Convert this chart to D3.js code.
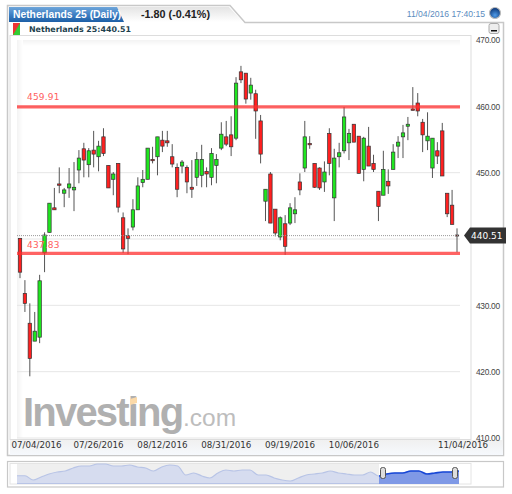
<!DOCTYPE html>
<html>
<head>
<meta charset="utf-8">
<script src="https://cdn.jsdelivr.net/npm/d3@7"></script>
<style>
html, body { margin: 0; padding: 0; background: #fff; }
svg { display: block; }
text { font-family: "DejaVu Sans", sans-serif; }
</style>
</head>
<body>
<svg id="chart" width="512" height="494"></svg>
<script>
// values, oldest first
var opens = [440.1,431.8,427.3,424.6,425.2,437.9,441.0,444.7,448.3,446.9,447.7,447.4,450.4,453.6,451.2,453.4,452.4,455.4,451.1,449.0,451.4,443.2,440.5,441.8,444.4,448.5,449.0,452.0,452.4,454.9,454.8,452.4,450.8,451.0,450.8,447.8,449.3,449.6,450.2,449.3,451.1,453.7,455.4,455.7,455.2,465.2,465.0,462.0,461.9,457.8,445.7,449.8,444.5,440.3,442.3,442.4,443.8,448.6,450.7,454.4,451.4,450.7,448.6,455.9,446.2,452.4,453.3,454.5,457.3,455.5,450.5,454.0,451.4,447.2,446.6,448.7,450.5,454.0,455.4,457.0,459.6,460.5,457.6,454.8,450.7,453.3,456.3,446.9,445.1,440.6];
var highs = [440.1,433.8,430.3,429.0,434.6,441.0,445.4,447.7,450.8,447.7,450.7,451.6,453.4,454.5,453.7,456.3,454.8,456.7,451.1,450.1,451.4,444.0,441.6,446.0,449.3,450.4,453.7,453.9,455.4,456.3,456.3,454.3,451.4,451.9,451.1,451.9,453.1,454.2,450.8,453.7,452.8,457.6,457.8,458.5,464.4,466.1,465.0,464.3,462.5,458.7,447.5,450.1,444.5,443.4,443.6,445.4,446.3,449.9,457.8,455.5,451.4,450.8,451.7,456.7,453.6,454.5,459.9,456.6,457.3,455.5,455.4,456.9,452.7,447.2,453.3,450.5,454.3,455.5,457.2,458.4,462.9,462.0,458.1,459.1,455.2,454.6,457.5,446.9,447.4,441.6];
var lows = [434.1,429.0,419.3,424.6,424.3,435.0,441.0,444.4,446.9,444.8,446.2,444.2,448.4,449.3,449.3,450.8,450.2,452.5,447.7,446.6,444.0,437.9,437.7,441.3,444.4,447.8,449.0,451.4,449.6,453.1,453.9,450.8,446.3,449.9,446.9,446.2,448.0,447.8,447.8,448.1,448.4,453.4,454.0,452.5,454.9,463.5,460.4,461.0,455.1,451.4,442.7,442.4,440.4,439.8,437.6,442.1,442.4,446.6,450.1,453.6,447.7,447.4,447.1,449.6,442.7,450.8,452.9,451.9,454.6,449.9,448.7,451.0,450.1,442.7,446.6,446.8,450.5,452.2,452.2,454.9,459.4,458.5,453.1,453.4,449.2,451.3,449.5,443.3,442.2,438.0];
var closes = [435.0,430.3,422.0,426.1,433.7,440.6,445.4,444.4,448.1,447.4,448.3,447.8,452.2,451.9,453.3,452.8,454.0,452.9,447.7,449.8,444.8,438.5,440.1,444.4,448.0,449.0,453.7,451.8,455.4,454.0,454.5,451.3,447.5,451.6,448.6,447.5,452.0,452.0,449.8,452.9,452.0,455.8,454.3,453.9,463.5,464.0,461.1,463.2,459.3,452.8,447.5,442.4,440.9,443.2,438.9,444.7,444.4,447.4,455.4,454.2,447.8,447.7,450.1,451.4,452.2,453.0,458.4,455.9,454.6,449.9,455.2,451.0,450.5,444.9,450.5,448.0,453.1,454.6,456.0,457.3,459.4,459.3,455.7,455.5,455.2,452.5,449.5,443.8,442.2,440.51];

var gridTicks = [460, 450, 440, 430, 420, 410];
var yTicks = [470, 460, 450, 430, 420, 410]; // 440.00 sits under the price callout
var dateTickIndex = [0, 16, 29, 42, 55, 68, 89];
var dateTickLabels = ['07/04/2016', '07/26/2016', '08/12/2016', '08/31/2016', '09/19/2016', '10/06/2016', '11/04/2016'];
var levels = [459.91, 437.83];
var lastPrice = 440.51;

// navigator strip, long history
var miniValues = [413,413,396,408,420,428,432,444,452,452,460,460,452,452,456,448,444,432,448,456,452,416,424,412,404,424,436,432,436,436,416,416,404,396,392,404,416,420,424,432,424,420,416,416,428,412,420,424,424,432,432,420,424,428,428,432];

var svg = d3.select('#chart');
var defs = svg.append('defs');

function gradient(id, stops, horizontal) {
    var g = defs.append('linearGradient').attr('id', id)
        .attr('x1', 0).attr('y1', 0)
        .attr('x2', horizontal ? 1 : 0).attr('y2', horizontal ? 0 : 1);
    stops.forEach(function (s) {
        g.append('stop').attr('offset', s[0]).attr('stop-color', s[1]);
    });
}
gradient('tabBlue', [[0, '#6fa6da'], [0.5, '#3f80c4'], [1, '#1d5fa6']]);
gradient('tabGray', [[0, '#e4e4e4'], [1, '#ffffff']]);
gradient('plotTop', [[0, '#f3f3f3'], [1, '#ffffff']]);
gradient('plotLeft', [[0, '#f3f3f3'], [1, '#ffffff']], true);
gradient('dateBar', [[0, '#f0f0f0'], [1, '#f6f9fd']]);
var globe = defs.append('radialGradient').attr('id', 'globe').attr('cx', 0.5).attr('cy', 0.7).attr('r', 0.6);
globe.append('stop').attr('offset', 0).attr('stop-color', '#4f9be8');
globe.append('stop').attr('offset', 1).attr('stop-color', '#123f80');

// frame and tab
svg.append('path')
    .attr('d', 'M7.5 455.5V5.5H230L245 22.5H503.5V455.5Z')
    .attr('fill', '#fff').attr('stroke', '#c8c8c8').attr('stroke-width', 1.5);
svg.append('path').attr('d', 'M9 7H229L243 22H9Z').attr('fill', 'url(#tabGray)');
svg.append('path').attr('d', 'M9 7H117L124 22H9Z').attr('fill', 'url(#tabBlue)');
svg.append('text').attr('x', 13).attr('y', 18).attr('fill', '#fff')
    .style('font-family', '"Liberation Sans"').style('font-weight', 'bold').style('font-size', '10.3px')
    .text('Netherlands 25 (Daily)');
svg.append('text').attr('x', 141).attr('y', 18).attr('fill', '#222')
    .style('font-family', '"Liberation Sans"').style('font-weight', 'bold').style('font-size', '10.8px')
    .text('-1.80 (-0.41%)');
svg.append('text').attr('x', 485).attr('y', 17).attr('text-anchor', 'end').attr('fill', '#5b8cc0')
    .style('font-family', '"Liberation Sans"').style('font-size', '8.6px')
    .text('11/04/2016 17:40:15');
svg.append('circle').attr('cx', 495).attr('cy', 13).attr('r', 5.5)
    .attr('fill', 'url(#globe)').attr('stroke', '#bbb').attr('stroke-width', 1.2);

// legend row
svg.append('rect').attr('x', 13).attr('y', 23).attr('width', 7).attr('height', 12).attr('fill', '#33cc33');
svg.append('path').attr('d', 'M13 23H20L13 35Z').attr('fill', '#ee3333');
svg.append('text').attr('x', 29).attr('y', 32).attr('fill', '#1d3f4d')
    .style('font-weight', 'bold').style('font-size', '7.9px')
    .text('Netherlands 25:440.51');

// minimise button
svg.append('rect').attr('x', 489).attr('y', 23.5).attr('width', 10).attr('height', 10).attr('rx', 2)
    .attr('fill', '#eee').attr('stroke', '#aaa');
svg.append('rect').attr('x', 491).attr('y', 30).attr('width', 6).attr('height', 1.5).attr('fill', '#111');

// inner chart box
svg.append('rect').attr('x', 10).attr('y', 35.5).attr('width', 461).attr('height', 404)
    .attr('fill', '#fff').attr('stroke', '#ddd');
svg.append('rect').attr('x', 17).attr('y', 40).attr('width', 443).attr('height', 6).attr('fill', 'url(#plotTop)');
svg.append('rect').attr('x', 17).attr('y', 40).attr('width', 6).attr('height', 398).attr('fill', 'url(#plotLeft)');
svg.append('rect').attr('x', 10).attr('y', 440).attr('width', 493).attr('height', 15).attr('fill', 'url(#dateBar)');

var x = d3.scaleLinear().domain([0, opens.length - 1]).range([20, 457]);
var y = d3.scaleLinear().domain([410, 470]).range([438, 40]);

// grid
svg.append('g').selectAll('line').data(gridTicks).enter().append('line')
    .attr('x1', 17).attr('x2', 460)
    .attr('y1', function (d) { return y(d); }).attr('y2', function (d) { return y(d); })
    .attr('stroke', '#e6e6e6');

// watermark
var mark = svg.append('g');
mark.append('text').attr('x', 23).attr('y', 426).attr('fill', '#b0b0b0')
    .style('font-family', '"Liberation Sans"').style('font-weight', 'bold').style('font-size', '40px')
    .style('letter-spacing', '-1.8px').text('Investing');
mark.append('text').attr('x', 183).attr('y', 426).attr('fill', '#bdbdbd')
    .style('font-family', '"Liberation Sans"').style('font-size', '24.5px').text('.com');
mark.append('path').attr('d', 'M130 399L137 397V403L130 405Z').attr('fill', '#fbd9a8');

// axes
var yAxis = d3.axisRight(y).tickValues(yTicks).tickSize(0).tickPadding(0)
    .tickFormat(function (d) { return d3.format('.2f')(d); });
var yG = svg.append('g').attr('transform', 'translate(476,0)').call(yAxis);
yG.select('.domain').remove();
yG.selectAll('text').attr('fill', '#444')
    .style('font-family', '"Liberation Sans"').style('font-size', '8.4px').style('letter-spacing', '-0.3px');

var xAxis = d3.axisBottom(x).tickValues(dateTickIndex).tickSize(0).tickPadding(0)
    .tickFormat(function (d, i) { return dateTickLabels[i]; });
var xG = svg.append('g').attr('transform', 'translate(0,442)').call(xAxis);
xG.select('.domain').remove();
xG.selectAll('.tick').attr('transform', function (d, i) {
    // end labels are pushed along the strip: first one right, last one right of its candle
    var cx = x(d);
    if (i === 0) cx = 36.5;
    if (i === dateTickIndex.length - 1) cx = 463;
    return 'translate(' + cx + ',0)';
});
xG.selectAll('text').attr('fill', '#333').style('font-size', '8.7px');

// candles
var candles = svg.append('g').selectAll('g').data(d3.range(opens.length)).enter().append('g');
candles.append('line')
    .attr('x1', function (i) { return x(i); })
    .attr('x2', function (i) { return x(i); })
    .attr('y1', function (i) { return y(highs[i]); })
    .attr('y2', function (i) { return y(lows[i]); })
    .attr('stroke', '#555');
candles.append('rect')
    .attr('x', function (i) { return x(i) - 1.7; })
    .attr('width', 3.4)
    .attr('y', function (i) { return y(Math.max(opens[i], closes[i])); })
    .attr('height', function (i) { return Math.max(1, Math.abs(y(opens[i]) - y(closes[i]))); })
    .attr('fill', function (i) { return closes[i] >= opens[i] ? '#1fe61f' : '#ff2020'; })
    .attr('stroke', '#333').attr('stroke-width', 0.7);

// last price line and callout
svg.append('line').attr('x1', 17).attr('x2', 458)
    .attr('y1', y(lastPrice)).attr('y2', y(lastPrice))
    .attr('stroke', '#999').attr('stroke-dasharray', '1,1');
svg.append('path')
    .attr('d', 'M464 ' + y(lastPrice) + 'L470 ' + (y(lastPrice) - 8) + 'H506V' + (y(lastPrice) + 8) + 'H470Z')
    .attr('fill', '#333');
svg.append('text').attr('x', 471).attr('y', y(lastPrice) + 3.5).attr('fill', '#fff')
    .style('font-size', '9px').text('440.51');

// horizontal levels
svg.append('g').selectAll('line').data(levels).enter().append('line')
    .attr('x1', 17).attr('x2', 460)
    .attr('y1', function (d) { return y(d); }).attr('y2', function (d) { return y(d); })
    .attr('stroke', '#ff2f2f').attr('stroke-opacity', 0.75).attr('stroke-width', 3.2);
svg.append('g').selectAll('text').data(levels).enter().append('text')
    .attr('x', 27)
    .attr('y', function (d, i) { return i === 0 ? 100 : 248; })
    .attr('fill', '#ff6060').style('font-size', '9px').style('letter-spacing', '0.2px')
    .text(function (d) { return d3.format('.2f')(d); });

// navigator
svg.append('rect').attr('x', 7.5).attr('y', 461.5).attr('width', 496).attr('height', 25.5)
    .attr('fill', '#fff').attr('stroke', '#c8c8c8').attr('stroke-width', 1.2);
svg.append('rect').attr('x', 10).attr('y', 463.5).attr('width', 461).attr('height', 20.5)
    .attr('fill', '#fff').attr('stroke', '#e4e4e4');
svg.append('rect').attr('x', 17).attr('y', 464).attr('width', 362).attr('height', 20).attr('fill', '#efefef');

var miniX = d3.scaleLinear().domain([0, miniValues.length - 1]).range([17, 459]);
var miniY = d3.scaleLinear().domain([380, 464]).range([484, 463]);
var miniArea = d3.area().x(function (d, i) { return miniX(i); }).y0(484)
    .y1(function (d) { return miniY(d); }).curve(d3.curveMonotoneX);
var miniLine = d3.line().x(function (d, i) { return miniX(i); })
    .y(function (d) { return miniY(d); }).curve(d3.curveMonotoneX);

defs.append('clipPath').attr('id', 'sel').append('rect')
    .attr('x', 379).attr('y', 460).attr('width', 80).attr('height', 26);
svg.append('path').datum(miniValues).attr('d', miniArea).attr('fill', '#d6dcef');
svg.append('path').datum(miniValues).attr('d', miniLine).attr('fill', 'none').attr('stroke', '#b8c4e6').attr('stroke-width', 1.2);
svg.append('path').datum(miniValues).attr('d', miniArea).attr('fill', '#7f99e6').attr('clip-path', 'url(#sel)');
svg.append('path').datum(miniValues).attr('d', miniLine).attr('fill', 'none').attr('stroke', '#1747d6').attr('stroke-width', 1.6).attr('clip-path', 'url(#sel)');
svg.append('line').attr('x1', 17).attr('x2', 379).attr('y1', 483.5).attr('y2', 483.5).attr('stroke', '#b8c4e6');

svg.append('g').selectAll('rect').data([383, 455]).enter().append('rect')
    .attr('x', function (d) { return d - 2.5; }).attr('y', 467.5)
    .attr('width', 5).attr('height', 11).attr('rx', 2)
    .attr('fill', '#ddd').attr('stroke', '#555');
</script>
</body>
</html>
